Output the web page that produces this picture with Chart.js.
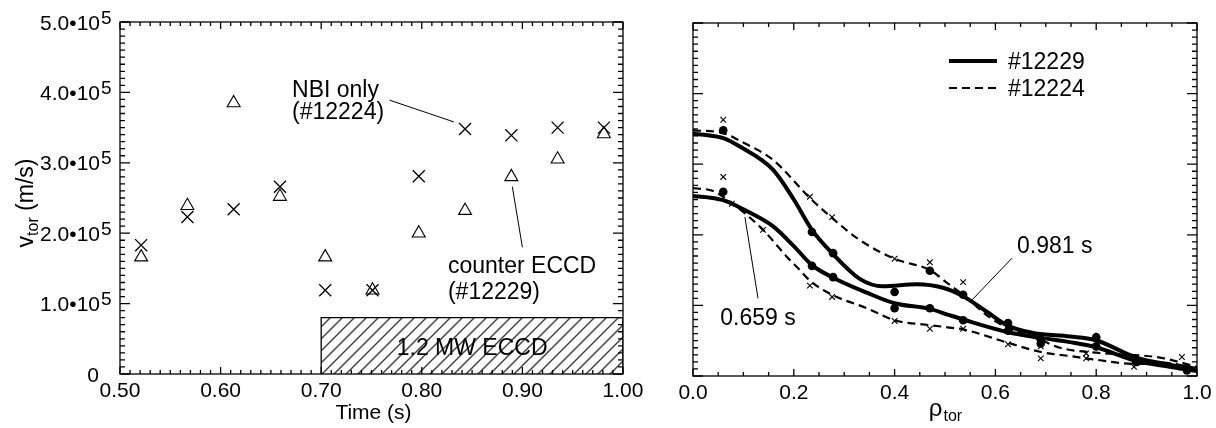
<!DOCTYPE html>
<html>
<head>
<meta charset="utf-8">
<script src="https://cdn.jsdelivr.net/npm/chart.js@4.4.0/dist/chart.umd.min.js"></script>
<style>
  body { margin: 0; background: #fff; width: 1216px; height: 428px; overflow: hidden; position: relative; }
  canvas { position: absolute; top: 0; }
  #leftChart { left: 0; }
  #rightChart { left: 660px; }
</style>
</head>
<body>
<canvas id="leftChart" width="660" height="428"></canvas>
<canvas id="rightChart" width="556" height="428"></canvas>
<script>
// Left panel: v_tor vs time
const times = [0.521, 0.567, 0.613, 0.659, 0.704, 0.751, 0.797, 0.843, 0.889, 0.935, 0.981];
const vNbiOnly = [1.83e5, 2.23e5, 2.34e5, 2.66e5, 1.19e5, 1.19e5, 2.81e5, 3.48e5, 3.39e5, 3.50e5, 3.50e5];
const vCounterEccd = [1.66e5, 2.39e5, 3.85e5, 2.52e5, 1.66e5, 1.19e5, 2.00e5, 2.32e5, 2.80e5, 3.05e5, 3.41e5];
const eccdTimes = [0.70, 0.70, 1.00, 1.00];
const eccdLevel = [0, 0.8e5, 0.8e5, 0];
const timeTicks = [0.50, 0.60, 0.70, 0.80, 0.90, 1.00];
const timeTickLabels = ['0.50', '0.60', '0.70', '0.80', '0.90', '1.00'];
const vTicks = [0, 1e5, 2e5, 3e5, 4e5, 5e5];
const vTickMantissa = ['0', '1.0', '2.0', '3.0', '4.0', '5.0'];

// Right panel: profiles vs rho_tor (fits)
const rhoFitA = [0, 0.03, 0.06, 0.093, 0.159, 0.2, 0.236, 0.276, 0.33, 0.377, 0.444, 0.496, 0.536, 0.583, 0.625, 0.675, 0.748, 0.798, 0.88, 0.946, 1.0];
const vFitA = [3.43, 3.41, 3.37, 3.25, 2.92, 2.50, 2.07, 1.74, 1.38, 1.27, 1.30, 1.25, 1.13, 0.91, 0.71, 0.61, 0.56, 0.51, 0.26, 0.16, 0.08];
const rhoFitB = [0, 0.03, 0.06, 0.1, 0.159, 0.2, 0.236, 0.276, 0.345, 0.4, 0.47, 0.505, 0.536, 0.625, 0.69, 0.748, 0.798, 0.88, 0.946, 1.0];
const vFitB = [2.55, 2.53, 2.49, 2.36, 2.12, 1.84, 1.57, 1.40, 1.18, 1.03, 0.95, 0.87, 0.80, 0.62, 0.54, 0.48, 0.41, 0.21, 0.13, 0.07];
const rhoFitC = [0, 0.06, 0.093, 0.159, 0.232, 0.274, 0.33, 0.4, 0.47, 0.504, 0.536, 0.583, 0.625, 0.69, 0.728, 0.8, 0.927, 1.0];
const vFitC = [3.48, 3.44, 3.33, 3.06, 2.52, 2.25, 1.93, 1.66, 1.50, 1.32, 1.15, 0.86, 0.68, 0.51, 0.40, 0.33, 0.26, 0.13];
const rhoFitD = [0, 0.04, 0.077, 0.139, 0.186, 0.212, 0.232, 0.276, 0.345, 0.4, 0.47, 0.505, 0.536, 0.625, 0.69, 0.75, 0.8, 0.88, 0.93, 1.0];
const vFitD = [2.66, 2.62, 2.45, 2.07, 1.69, 1.50, 1.35, 1.15, 0.96, 0.79, 0.72, 0.69, 0.66, 0.47, 0.34, 0.28, 0.23, 0.17, 0.19, 0.11];

// measured points
const rhoDots = [0.06, 0.236, 0.278, 0.40, 0.47, 0.536, 0.625, 0.69, 0.80, 0.88, 0.98];
const vDotsLate = [3.48, 2.04, 1.74, 1.19, 1.49, 1.15, 0.75, 0.46, 0.55, 0.20, 0.11];
const vDotsEarly = [2.61, 1.56, 1.40, 0.96, 0.96, 0.79, 0.64, 0.52, 0.42, 0.20, 0.08];
const rhoCrossLate = [0.06, 0.232, 0.276, 0.40, 0.47, 0.536, 0.625, 0.69, 0.78, 0.875, 0.97];
const vCrossLate = [3.63, 2.54, 2.25, 1.66, 1.61, 1.33, 0.70, 0.42, 0.32, 0.20, 0.27];
const rhoCrossEarly = [0.06, 0.077, 0.139, 0.232, 0.276, 0.40, 0.47, 0.536, 0.625, 0.69, 0.78, 0.875, 0.97];
const vCrossEarly = [2.82, 2.44, 2.07, 1.28, 1.12, 0.78, 0.67, 0.67, 0.45, 0.25, 0.25, 0.13, 0.12];
const rhoTicks = [0, 0.2, 0.4, 0.6, 0.8, 1.0];
const rhoTickLabels = ['0.0', '0.2', '0.4', '0.6', '0.8', '1.0'];

const FONT = '"Liberation Sans", Arial, Helvetica, sans-serif';
const tickFont = '21px ' + FONT;
const textFont = '23px ' + FONT;
const subFont = '16px ' + FONT;

const pts = (xs, ys) => xs.map((x, i) => ({ x: x, y: ys[i] }));

function hatchPattern() {
    const s = 12;
    const c = document.createElement('canvas');
    c.width = s; c.height = s;
    const g = c.getContext('2d');
    g.strokeStyle = '#444';
    g.lineWidth = 1.5;
    g.beginPath();
    g.moveTo(0, s); g.lineTo(s, 0);
    g.moveTo(-s / 2, s / 2); g.lineTo(s / 2, -s / 2);
    g.moveTo(s / 2, s * 1.5); g.lineTo(s * 1.5, s / 2);
    g.stroke();
    return g.createPattern(c, 'repeat');
}

// box with inward ticks on all four sides + labels
function framePlugin(f) {
    return {
        id: 'frame' + f.name,
        afterDatasetsDraw(chart) {
            const { ctx, chartArea: a, scales: { x, y } } = chart;
            ctx.save();
            ctx.strokeStyle = '#000';
            ctx.lineWidth = 1.3;
            ctx.beginPath();
            const nx = Math.round((f.xMax - f.xMin) / f.xMinor);
            for (let i = 0; i <= nx; i++) {
                const p = x.getPixelForValue(f.xMin + i * f.xMinor);
                const len = i % f.xEvery === 0 ? 7 : 4;
                ctx.moveTo(p, a.bottom); ctx.lineTo(p, a.bottom - len);
                ctx.moveTo(p, a.top); ctx.lineTo(p, a.top + len);
            }
            const ny = Math.round((f.yMax - f.yMin) / f.yMinor);
            for (let i = 0; i <= ny; i++) {
                const p = y.getPixelForValue(f.yMin + i * f.yMinor);
                const len = i % f.yEvery === 0 ? 10 : 5;
                ctx.moveTo(a.left, p); ctx.lineTo(a.left + len, p);
                ctx.moveTo(a.right, p); ctx.lineTo(a.right - len, p);
            }
            ctx.stroke();
            ctx.strokeRect(a.left, a.top, a.right - a.left, a.bottom - a.top);

            ctx.fillStyle = '#000';
            ctx.font = tickFont;
            ctx.textAlign = 'center';
            ctx.textBaseline = 'alphabetic';
            f.xTicks.forEach((v, i) => ctx.fillText(f.xLabels[i], x.getPixelForValue(v), a.bottom + 23));
            if (f.extra) f.extra(chart, ctx, a, x, y);
            ctx.restore();
        }
    };
}

function line(ctx, x, y, x1, y1, x2, y2) {
    ctx.beginPath();
    ctx.lineWidth = 1;
    ctx.moveTo(x.getPixelForValue(x1), y.getPixelForValue(y1));
    ctx.lineTo(x.getPixelForValue(x2), y.getPixelForValue(y2));
    ctx.stroke();
}

const baseOptions = (padding, xr, yr) => ({
    responsive: false,
    animation: false,
    events: [],
    layout: { padding: padding },
    plugins: { legend: { display: false }, tooltip: { enabled: false } },
    scales: {
        x: { type: 'linear', min: xr[0], max: xr[1], display: false },
        y: { type: 'linear', min: yr[0], max: yr[1], display: false }
    }
});

// ---- left chart
const leftCtx = document.getElementById('leftChart').getContext('2d');
new Chart(leftCtx, {
    type: 'scatter',
    data: {
        datasets: [
            {
                label: 'NBI only (#12224)',
                data: pts(times, vNbiOnly),
                pointStyle: 'crossRot', pointRadius: 8.5, borderColor: '#000', borderWidth: 1.3,
                backgroundColor: 'transparent'
            },
            {
                label: 'counter ECCD (#12229)',
                data: pts(times, vCounterEccd),
                pointStyle: 'triangle', pointRadius: 7.5, borderColor: '#000', borderWidth: 1.1,
                backgroundColor: 'transparent'
            },
            {
                label: '1.2 MW ECCD',
                data: pts(eccdTimes, eccdLevel),
                showLine: true, tension: 0, pointRadius: 0,
                borderColor: '#000', borderWidth: 1.3,
                backgroundColor: hatchPattern(), fill: 'origin'
            }
        ]
    },
    options: baseOptions({ left: 120, top: 22, right: 37, bottom: 54 }, [0.5, 1.0], [0, 5e5]),
    plugins: [framePlugin({
        name: 'L', xMin: 0.5, xMax: 1.0, xMinor: 0.01, xEvery: 10,
        yMin: 0, yMax: 5e5, yMinor: 1e4, yEvery: 10,
        xTicks: timeTicks, xLabels: timeTickLabels,
        extra(chart, ctx, a, x, y) {
            // y tick labels with exponent
            vTicks.forEach((v, i) => {
                const p = y.getPixelForValue(v);
                ctx.font = tickFont;
                ctx.textAlign = 'right';
                if (v === 0) { ctx.fillText('0', a.left - 21, p + 7.5); return; }
                ctx.fillText(vTickMantissa[i] + '\u202210', a.left - 20, p + 7.5);
                ctx.textAlign = 'left';
                ctx.font = '19px ' + FONT;
                ctx.fillText('5', a.left - 19, p + 1.5);
            });
            // axis titles
            ctx.font = tickFont;
            ctx.textAlign = 'center';
            ctx.fillText('Time (s)', (a.left + a.right) / 2 + 2, 419);
            ctx.save();
            ctx.translate(33, 203);
            ctx.rotate(-Math.PI / 2);
            ctx.textAlign = 'left';
            ctx.font = textFont;
            const wv = ctx.measureText('v').width;
            const wr = ctx.measureText(' (m/s)').width;
            ctx.font = subFont;
            const wt = ctx.measureText('tor').width;
            let x0 = -(wv + wt + wr) / 2;
            ctx.font = textFont; ctx.fillText('v', x0, 0);
            ctx.font = subFont; ctx.fillText('tor', x0 + wv, 5);
            ctx.font = textFont; ctx.fillText(' (m/s)', x0 + wv + wt, 0);
            ctx.restore();
            // annotations
            ctx.font = textFont;
            ctx.textAlign = 'left';
            ctx.fillText('NBI only', x.getPixelForValue(0.671), y.getPixelForValue(3.93e5));
            ctx.fillText('(#12224)', x.getPixelForValue(0.671), y.getPixelForValue(3.62e5));
            line(ctx, x, y, 0.768, 3.89e5, 0.832, 3.58e5);
            ctx.fillText('counter ECCD', x.getPixelForValue(0.826), y.getPixelForValue(1.43e5));
            ctx.fillText('(#12229)', x.getPixelForValue(0.826), y.getPixelForValue(1.06e5));
            line(ctx, x, y, 0.890, 2.66e5, 0.900, 1.80e5);
            ctx.textAlign = 'center';
            ctx.fillText('1.2 MW ECCD', x.getPixelForValue(0.85), y.getPixelForValue(0.38e5) + 8);
        }
    })]
});

// ---- right chart
const solid = { showLine: true, pointRadius: 0, borderColor: '#000', borderWidth: 4, cubicInterpolationMode: 'monotone', fill: false };
const dashed = { showLine: true, pointRadius: 0, borderColor: '#000', borderWidth: 2.2, borderDash: [8, 5], cubicInterpolationMode: 'monotone', fill: false };
const rightCtx = document.getElementById('rightChart').getContext('2d');
new Chart(rightCtx, {
    type: 'scatter',
    data: {
        datasets: [
            { label: 'dots 0.981', data: pts(rhoDots, vDotsLate), pointStyle: 'circle', pointRadius: 4.3, backgroundColor: '#000', borderColor: '#000', borderWidth: 0 },
            { label: 'dots 0.659', data: pts(rhoDots, vDotsEarly), pointStyle: 'circle', pointRadius: 4.3, backgroundColor: '#000', borderColor: '#000', borderWidth: 0 },
            { label: 'x 0.981', data: pts(rhoCrossLate, vCrossLate), pointStyle: 'crossRot', pointRadius: 4, borderColor: '#000', borderWidth: 1.1 },
            { label: 'x 0.659', data: pts(rhoCrossEarly, vCrossEarly), pointStyle: 'crossRot', pointRadius: 4, borderColor: '#000', borderWidth: 1.1 },
            Object.assign({ label: '#12229 0.981 s', data: pts(rhoFitA, vFitA) }, solid),
            Object.assign({ label: '#12229 0.659 s', data: pts(rhoFitB, vFitB) }, solid),
            Object.assign({ label: '#12224 0.981 s', data: pts(rhoFitC, vFitC) }, dashed),
            Object.assign({ label: '#12224 0.659 s', data: pts(rhoFitD, vFitD) }, dashed)
        ]
    },
    options: baseOptions({ left: 33, top: 23, right: 19, bottom: 52 }, [0, 1.0], [0, 5]),
    plugins: [framePlugin({
        name: 'R', xMin: 0, xMax: 1.0, xMinor: 0.05, xEvery: 4,
        yMin: 0, yMax: 5, yMinor: 0.1, yEvery: 10,
        xTicks: rhoTicks, xLabels: rhoTickLabels,
        extra(chart, ctx, a, x, y) {
            // axis title rho_tor
            ctx.textAlign = 'left';
            ctx.font = '24px ' + FONT;
            const wr = ctx.measureText('\u03c1').width;
            ctx.font = subFont;
            const wt = ctx.measureText('tor').width;
            const x0 = (a.left + a.right) / 2 - (wr + wt) / 2;
            ctx.font = '24px ' + FONT; ctx.fillText('\u03c1', x0, 416);
            ctx.font = subFont; ctx.fillText('tor', x0 + wr + 1, 421);
            // legend
            const lx = a.left + 256, lw = 48;
            ctx.strokeStyle = '#000';
            ctx.lineWidth = 4;
            ctx.beginPath(); ctx.moveTo(lx, a.top + 38); ctx.lineTo(lx + lw, a.top + 38); ctx.stroke();
            ctx.lineWidth = 2;
            ctx.setLineDash([8, 5]);
            ctx.beginPath(); ctx.moveTo(lx, a.top + 65); ctx.lineTo(lx + lw, a.top + 65); ctx.stroke();
            ctx.setLineDash([]);
            ctx.font = textFont;
            ctx.fillText('#12229', lx + 59, a.top + 46);
            ctx.fillText('#12224', lx + 59, a.top + 73);
            // time labels
            ctx.fillText('0.981 s', x.getPixelForValue(0.643), y.getPixelForValue(1.74));
            line(ctx, x, y, 0.633, 1.67, 0.554, 1.08);
            ctx.fillText('0.659 s', x.getPixelForValue(0.054), y.getPixelForValue(0.72));
            line(ctx, x, y, 0.103, 2.25, 0.129, 1.10);
        }
    })]
});
</script>
</body>
</html>
